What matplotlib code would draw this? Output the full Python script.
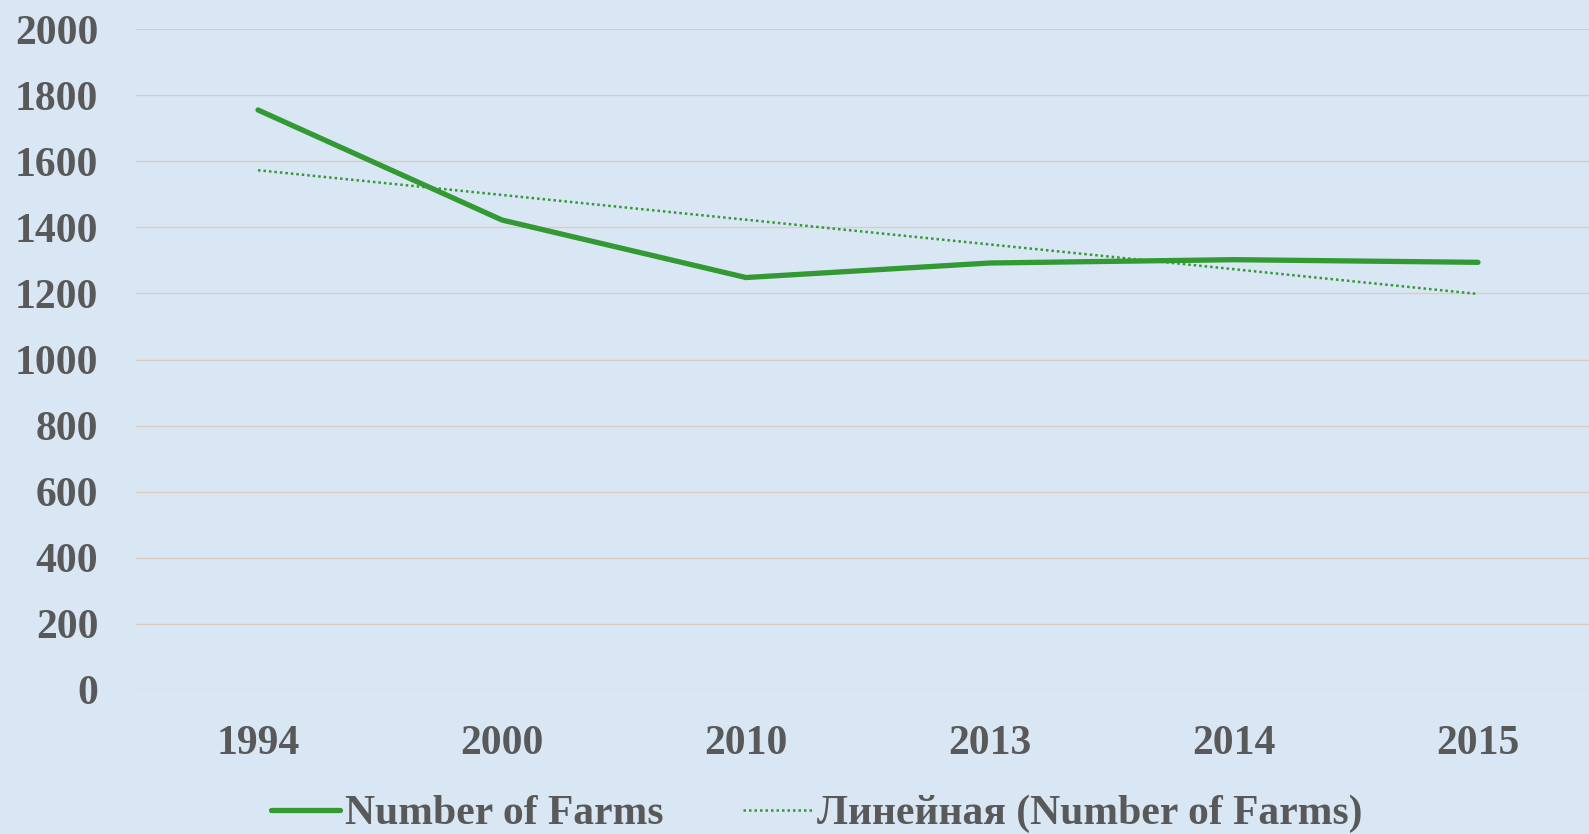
import numpy as np
import matplotlib.pyplot as plt

years = ["1994", "2000", "2010", "2013", "2014", "2015"]
farms = [1755, 1422, 1248, 1292, 1302, 1294]
yticks = [0, 200, 400, 600, 800, 1000, 1200, 1400, 1600, 1800, 2000]

bg = "#d9e7f5"
green = "#339933"
txt = "#595959"

plt.rcParams['font.family'] = ['Liberation Serif', 'DejaVu Serif']
plt.rcParams['font.weight'] = 'bold'

fig = plt.figure(figsize=(15.89, 8.34), dpi=100, facecolor=bg)
ax = fig.add_axes([136 / 1589, 144 / 834, 1464 / 1589, 661 / 834])
ax.set_facecolor(bg)

x = np.arange(len(years))
ax.plot(x, farms, color=green, lw=3.8, solid_capstyle='round',
        label="Number of Farms")

# linear trend (Excel style)
k, b = np.polyfit(x, farms, 1)
ax.plot(x, k * x + b, color=green, lw=1.8, ls=(0, (1, 1.2)),
        label="Линейная (Number of Farms)")

ax.set_xlim(-0.5, len(years) - 0.5)
ax.set_ylim(0, 2000)
ax.set_yticks(yticks)
ax.set_xticks(x)
ax.set_xticklabels(years)
ax.grid(axis='y', color='#dccbc0', lw=1)
ax.set_axisbelow(True)
for s in ax.spines.values():
    s.set_visible(False)
ax.tick_params(length=0, labelsize=30, labelcolor=txt)
ax.tick_params(axis='y', pad=27)
ax.tick_params(axis='x', pad=25)
for lab in ax.get_xticklabels() + ax.get_yticklabels():
    lab.set_fontweight('bold')

leg = fig.legend(loc='center', bbox_to_anchor=(0.514, 0.024), ncol=2,
                 frameon=False, handlelength=1.65,
                 handletextpad=0.12, columnspacing=1.9,
                 prop={'weight': 'bold', 'size': 30})
for t in leg.get_texts():
    t.set_color(txt)

fig.savefig("out.png", dpi=100, facecolor=bg)
